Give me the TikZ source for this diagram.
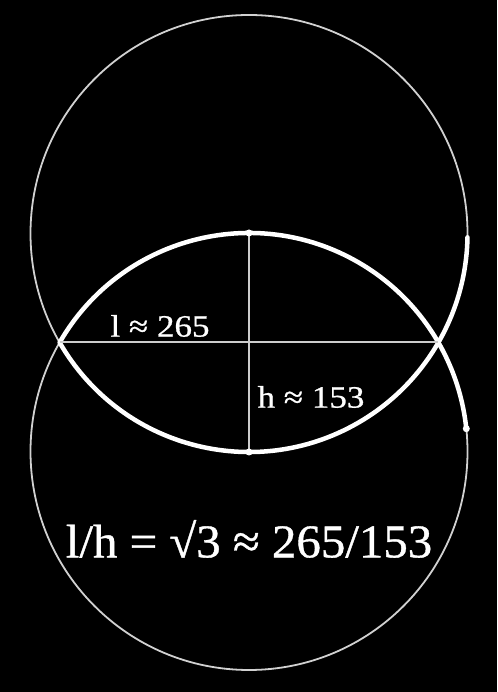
\documentclass[tikz,border=0pt]{standalone}
\usepackage{fontspec}
\setmainfont{Liberation Serif}
\newfontfamily\heavyserif[FakeBold=0.8]{Liberation Serif}
\usetikzlibrary{calc}
\begin{document}
\begin{tikzpicture}[x=1pt,y=1pt,
  circleline/.style={draw=white!82!black,line width=1.8pt},
  lensline/.style={draw=white,line width=4.5pt,line cap=round},
  axisline/.style={draw=white!80!black,line width=2pt},
  dotmark/.style={fill=white},
  smalllabel/.style={text=white,font=\heavyserif\fontsize{31}{31}\selectfont,inner sep=0pt,xscale=1.13},
  biglabel/.style={text=white,font=\heavyserif\fontsize{47}{47}\selectfont,inner sep=0pt,xscale=1.04}]
\fill[black] (0,0) rectangle (497,692);
\useasboundingbox (0,0) rectangle (497,692);
\coordinate (C1) at (249,458.5);
\coordinate (C2) at (249,240.5);
\coordinate (L) at ($(C2)+(150:218.5)$);
\coordinate (R) at ($(C2)+(30:218.5)$);
\coordinate (T) at ($(C2)+(90:218.5)$);
\coordinate (B) at ($(C1)+(270:218.5)$);
\coordinate (E1) at ($(C2)+(6:218.5)$);
\draw[circleline] (C1) circle (218.5);
\draw[circleline] (C2) circle (218.5);
\draw[lensline] (L) arc (150:6:218.5);
\draw[lensline] ($(C1)+(210:218.5)$) arc (210:359:218.5);
\draw[axisline] (L) -- (R);
\draw[axisline] (T) -- (B);
\fill[dotmark] (T) circle (3.5);
\fill[dotmark] (B) circle (3.5);
\fill[dotmark] (E1) circle (3.5);
\node[smalllabel] (lab1) at (160,366) {l ≈ 265};
\node[smalllabel] (lab2) at (311,295) {h ≈ 153};
\node[biglabel] (lab3) at (249,153) {l/h = √3 ≈ 265/153};
\end{tikzpicture}
\end{document}
